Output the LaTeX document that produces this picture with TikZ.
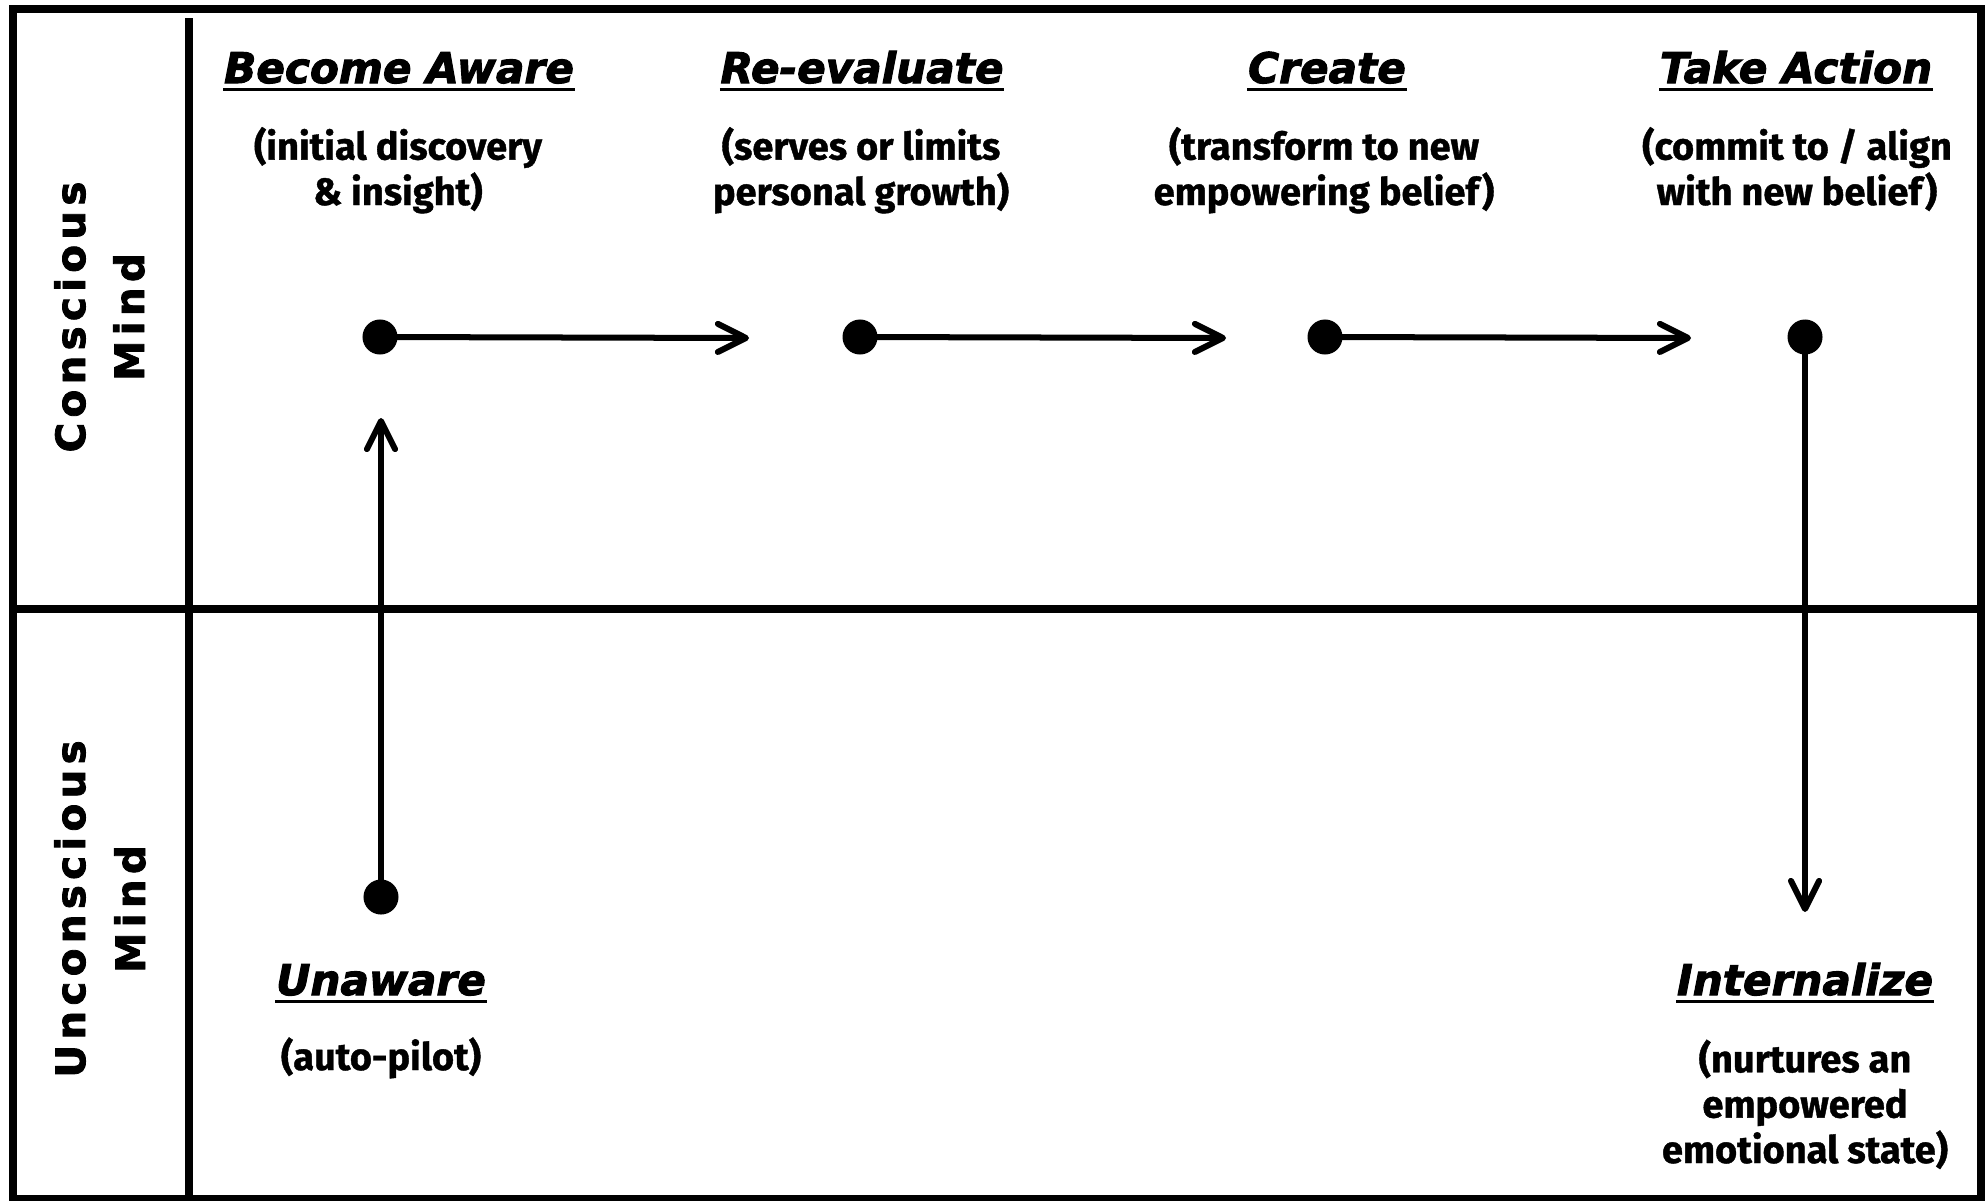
\documentclass[tikz,border=0pt]{standalone}
\usepackage{fontspec}
\usetikzlibrary{arrows.meta}
\newfontfamily\titlefont{DejaVu Sans Bold Oblique}[FakeBold=2.4]
\newfontfamily\sidefont{DejaVu Sans Bold}[LetterSpace=13,FakeBold=2]
\newfontfamily\subfont{Fira Sans Bold}[FakeBold=1]
\begin{document}
\begin{tikzpicture}[x=0.01cm,y=-0.01cm,
  frame/.style={line width=0.08cm},
  title/.style={font=\titlefont\fontsize{12}{14}\selectfont, inner sep=0pt, anchor=base},
  subtitle/.style={font=\subfont\fontsize{10.8}{12.9}\selectfont, align=center, inner sep=0pt, anchor=base},
  side/.style={font=\sidefont\fontsize{11.5}{14}\selectfont, rotate=90, inner sep=0pt},
  dot/.style={circle, fill=black, minimum size=0.35cm, inner sep=0pt},
  flow/.style={line width=0.06cm, -{Straight Barb[length=8pt,width=8pt,round]}},
  ul/.style={line width=0.03cm}]
\useasboundingbox (0,0) rectangle (1986,1200);
% frame and dividers
\draw[frame] (13,9) rectangle (1981,1199);
\draw[frame] (189,18) -- (189,1200);
\draw[frame] (13,609) -- (1981,609);
% side labels
\node[side] (c1) at (70,317) {Conscious};
\node[side] (c2) at (129,317) {Mind};
\node[side] (u1) at (70,909) {Unconscious};
\node[side] (u2) at (130,909) {Mind};
% titles
\node[title] (t1) at (399,83) {Become Aware};
\node[title] (t2) at (862,83) {Re-evaluate};
\node[title] (t3) at (1327,83) {Create};
\node[title] (t4) at (1796,83) {Take Action};
\node[title] (t5) at (381,995) {Unaware};
\node[title] (t6) at (1805,995) {Internalize};
\foreach \t in {t1,t2,t3,t4,t5,t6}
  \draw[ul] ([yshift=-1.85pt]\t.base west) -- ([yshift=-1.85pt]\t.base east);
% subtitles (anchor = baseline of the last line)
\node[subtitle] (s1) at (398,205) {(initial discovery\\ \& insight)};
\node[subtitle] (s2) at (861,205) {(serves or limits\\ personal growth)};
\node[subtitle] (s3) at (1324,205) {(transform to new\\ empowering belief)};
\node[subtitle] (s4) at (1797,205) {(commit to / align\\ with new belief)};
\node[subtitle] (s5) at (381,1070) {(auto-pilot)};
\node[subtitle] (s6) at (1805,1163) {(nurtures an\\ empowered\\ emotional state)};
% dots
\node[dot] (d0) at (381,897) {};
\node[dot] (d1) at (380,337) {};
\node[dot] (d2) at (860,337) {};
\node[dot] (d3) at (1325,337) {};
\node[dot] (d4) at (1805,337) {};
% arrow ends
\coordinate (e0) at (381,418);
\coordinate (e1) at (749,338);
\coordinate (e2) at (1226,338);
\coordinate (e3) at (1691,338);
\coordinate (e4) at (1805,912);
\draw[flow] (d0.center) -- (e0);
\draw[flow] (d1.center) -- (e1);
\draw[flow] (d2.center) -- (e2);
\draw[flow] (d3.center) -- (e3);
\draw[flow] (d4.center) -- (e4);
\end{tikzpicture}
\end{document}
